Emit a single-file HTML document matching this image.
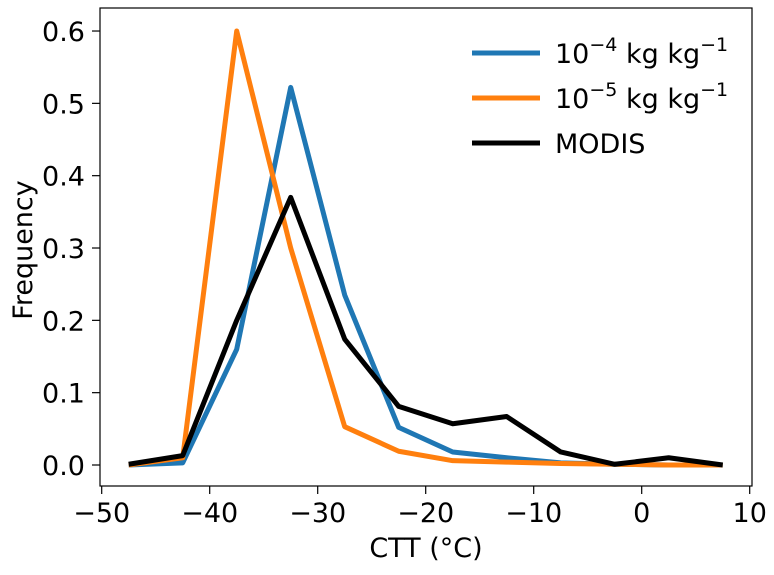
<!DOCTYPE html>
<html><head><meta charset="utf-8"><style>
body{margin:0;background:#fff}
svg{font-family:"DejaVu Sans","Liberation Sans",sans-serif}
</style></head><body>
<svg id="chart" width="774" height="570">
<g id="plot"></g>
</svg>
<script>
const xCenters=[-47.5,-42.5,-37.5,-32.5,-27.5,-22.5,-17.5,-12.5,-7.5,-2.5,2.5,7.5];
const series1e4=[0,0.003,0.16,0.522,0.235,0.052,0.018,0.01,0.003,0.001,0,0];
const series1e5=[0,0.01,0.6,0.3,0.053,0.019,0.006,0.004,0.002,0.001,0,0];
const seriesModis=[0.001,0.013,0.2,0.37,0.174,0.081,0.057,0.067,0.018,0.001,0.01,0];
const xTicks=[-50,-40,-30,-20,-10,0,10];
const yTicks=[0,0.1,0.2,0.3,0.4,0.5,0.6];
const ns="http://www.w3.org/2000/svg";
const g=document.getElementById('plot');
const X=v=>641.7+v*10.8;
const Y=v=>465-v*723.3;
function mk(t,a,p){const e=document.createElementNS(ns,t);for(const k in a)e.setAttribute(k,a[k]);(p||g).appendChild(e);return e;}
const box=mk('rect',{x:100,y:8,width:652,height:478,fill:'none',stroke:'#000','stroke-width':1.2});


xTicks.forEach(t=>{
  const l=mk('line',{x1:X(t),x2:X(t),y1:486,y2:494,stroke:'#000','stroke-width':1.2});
  
  
  const tx=mk('text',{x:X(t),y:522,'text-anchor':'middle','font-size':27});
  tx.textContent=(t<0?'\u2212'+(-t):''+t);
  
  
});
yTicks.forEach(t=>{
  const l=mk('line',{x1:92,x2:100,y1:Y(t),y2:Y(t),stroke:'#000','stroke-width':1.2});
  
  
  const tx=mk('text',{x:85,y:Y(t)+10,'text-anchor':'end','font-size':27});
  tx.textContent=t.toFixed(1);
  
  
});
function line(vals,color,name){
  const p=mk('polyline',{points:vals.map((v,i)=>X(xCenters[i])+','+Y(v)).join(' '),fill:'none',stroke:color,'stroke-width':5,'stroke-linejoin':'round'});
  
  
}
line(series1e4,'#1f77b4','line-1e-4');
line(series1e5,'#ff7f0e','line-1e-5');
line(seriesModis,'#000000','line-modis');
const xl=mk('text',{x:426,y:557,'text-anchor':'middle','font-size':27});
xl.textContent='CTT (°C)';


const yl=mk('text',{x:0,y:0,'text-anchor':'middle','font-size':27,transform:'translate(32,250) rotate(-90)'});
yl.textContent='Frequency';


const leg=[['#1f77b4','10','−4'],['#ff7f0e','10','−5'],['#000','MODIS','']];
leg.forEach((d,i)=>{
  const y=53+i*45;
  const l=mk('line',{x1:472,x2:540,y1:y,y2:y,stroke:d[0],'stroke-width':5});
  
  
  const t=mk('text',{x:555,y:y+10,'font-size':27});
  
  
  if(d[2]){
    t.innerHTML='10<tspan dy="-12" font-size="19">'+d[2]+'</tspan><tspan dy="12"> kg kg</tspan><tspan dy="-12" font-size="19">−1</tspan>';
  } else t.textContent=d[1];
});
</script>
</body></html>
